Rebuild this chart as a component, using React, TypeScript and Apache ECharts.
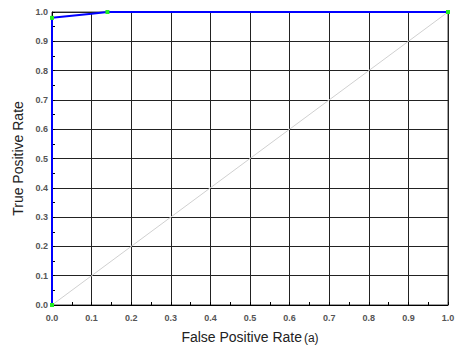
import React, { useEffect, useRef } from "react";
import * as echarts from "echarts";

const xTicks = [0, 0.1, 0.2, 0.3, 0.4, 0.5, 0.6, 0.7, 0.8, 0.9, 1.0];
const rocX = [0, 0, 0.1, 0.14, 1];
const rocY = [0, 0.98, 0.994, 1, 1];
const rocMarked = [true, true, false, true, true];
const diagX = [0, 1];
const diagY = [0, 1];

export default function App() {
  const ref = useRef<HTMLDivElement>(null);
  useEffect(() => {
    if (!ref.current) return;
    const chart = echarts.init(ref.current, null, { renderer: "svg" });
    const labelStyle = {
      color: "#555",
      fontSize: 9,
      fontFamily: "Liberation Sans, Arial, sans-serif",
      fontWeight: "bold" as const,
    };
    const axisCommon = {
      type: "value" as const,
      min: 0,
      max: 1,
      interval: 0.1,
      axisLine: { show: true, lineStyle: { color: "#000", width: 1 } },
      axisTick: { show: true, inside: true, length: 3, lineStyle: { color: "#000" } },
      minorTick: { show: true, splitNumber: 2, length: 3, lineStyle: { color: "#000" } },
      splitLine: { show: true, lineStyle: { color: "#222", width: 1 } },
      axisLabel: { ...labelStyle, formatter: (v: number) => v.toFixed(1) },
      nameTextStyle: {
        color: "#222",
        fontSize: 14,
        fontFamily: "Liberation Sans, Arial, sans-serif",
      },
    };
    chart.setOption({
      animation: false,
      grid: { left: 52, right: 11, top: 12, bottom: 44, show: true, borderColor: "#444", borderWidth: 1 },
      xAxis: {
        ...axisCommon,
        name: "False Positive Rate{s|(a)}",
        nameLocation: "middle",
        nameGap: 25,
        axisLabel: { ...axisCommon.axisLabel, margin: 8 },
        nameTextStyle: {
          ...axisCommon.nameTextStyle,
          rich: { s: { fontSize: 12, color: "#222", fontFamily: "Liberation Sans, Arial, sans-serif", padding: [2, 0, 0, 2] } },
        },
      },
      yAxis: {
        ...axisCommon,
        name: "True Positive Rate",
        nameLocation: "middle",
        nameGap: 26,
        axisLabel: { ...axisCommon.axisLabel, margin: 4 },
      },
      series: [
        {
          type: "line",
          data: diagX.map((x, i) => [x, diagY[i]]),
          symbol: "none",
          lineStyle: { color: "#d0d0d0", width: 1 },
          silent: true,
          z: 1,
        },
        {
          type: "line",
          data: rocX.map((x, i) => ({
            value: [x, rocY[i]],
            symbolSize: rocMarked[i] ? 4 : 0,
          })),
          symbol: "rect",
          showAllSymbol: true,
          itemStyle: { color: "#22ee22" },
          lineStyle: { color: "#0000ff", width: 2 },
          z: 3,
        },
      ],
    });
    return () => chart.dispose();
  }, []);
  return <div ref={ref} style={{ width: 459, height: 349, position: "absolute", left: 0, top: 0, background: "#fff" }} />;
}
